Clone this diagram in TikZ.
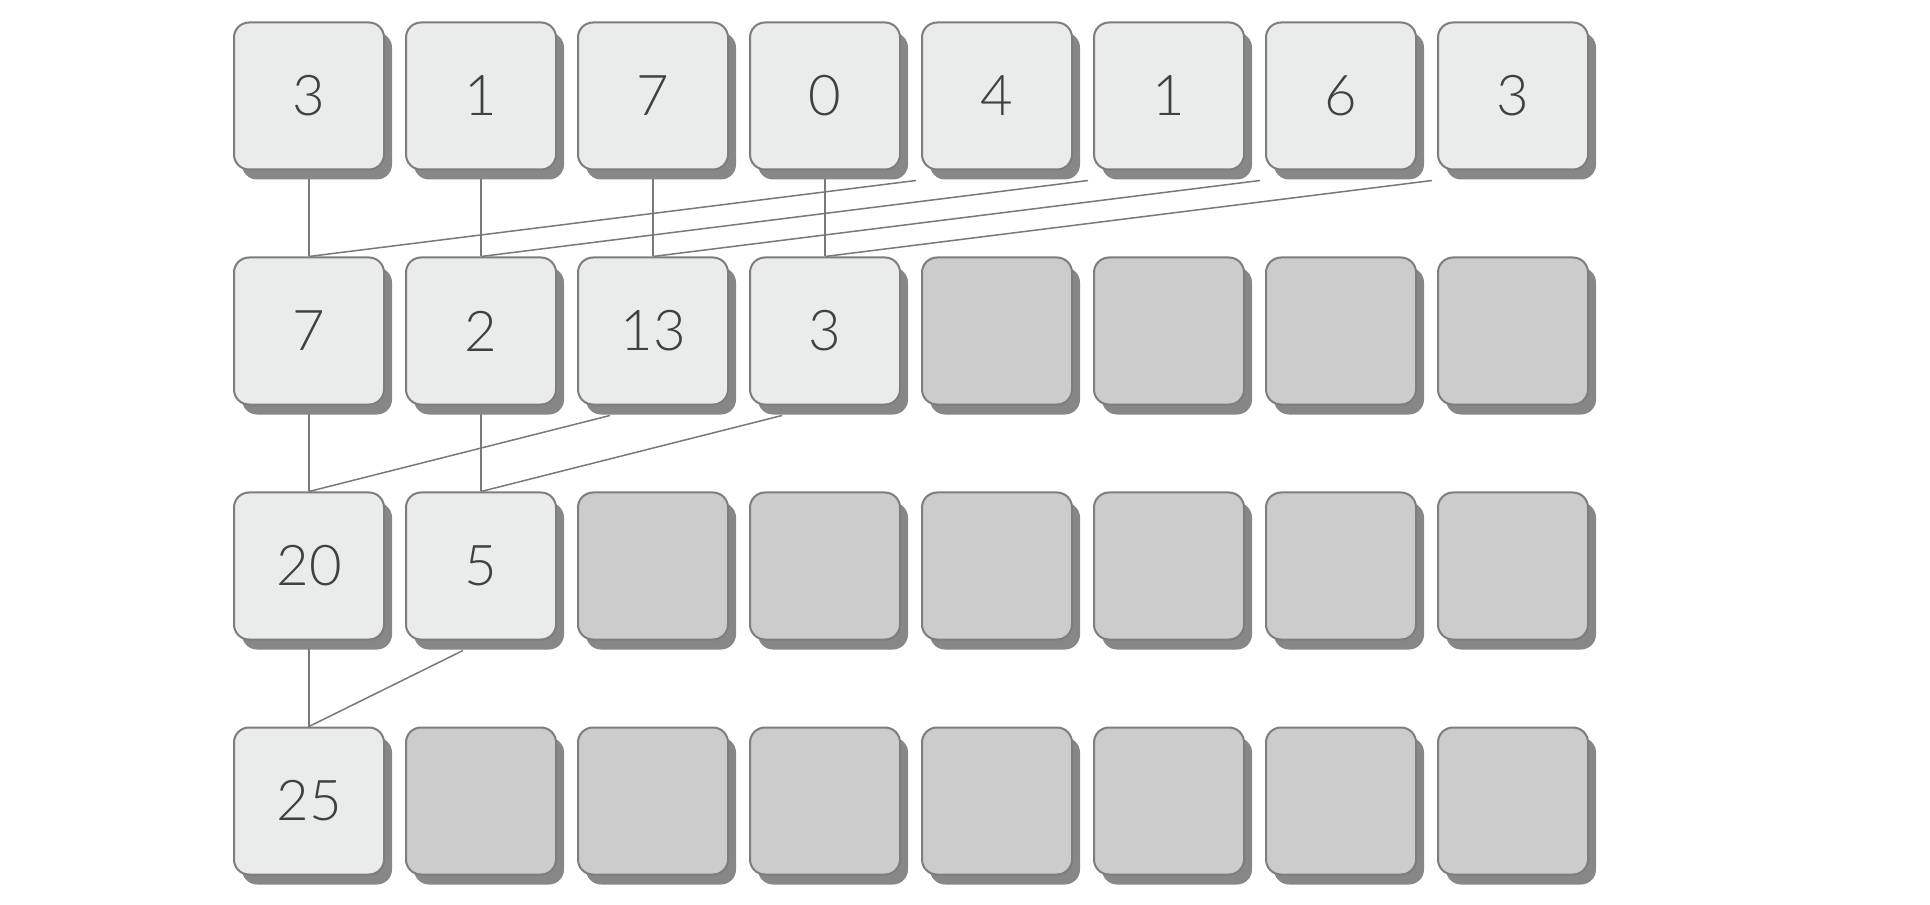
\documentclass[tikz,border=0pt]{standalone}
\usepackage{fontspec}
\setmainfont{Lato}[UprightFont=* Light]
\usetikzlibrary{shadows,backgrounds}
\definecolor{cellfill}{RGB}{233,236,235}
\definecolor{cellempty}{RGB}{204,204,204}
\definecolor{celledge}{RGB}{125,125,125}
\definecolor{cellshadow}{RGB}{135,135,135}
\definecolor{digit}{RGB}{64,64,64}
\definecolor{wirecol}{RGB}{120,120,120}
\tikzset{
  cell/.style={draw=celledge, line width=0.4mm, fill=cellfill, rounded corners=3mm,
    minimum width=30mm, minimum height=29.4mm, inner sep=0pt, text=digit,
    font=\fontsize{32}{38}\selectfont,
    drop shadow={shadow xshift=1.6mm, shadow yshift=-2mm, fill=cellshadow, opacity=1}},
  blank/.style={cell, fill=cellempty},
  wire/.style={draw=wirecol, line width=0.3mm}
}

\begin{document}
\begin{tikzpicture}[x=0.2mm, y=0.2mm]
			\useasboundingbox (0,0) rectangle (1930,904);
			% input row
			\foreach \v [count=\i from 0] in {3,1,7,0,4,1,6,3}
				\node[cell] (a\i) at (309+172*\i, 808) {\v};
			% first pass: four sums
			\node[cell] (b0) at (309, 573) {7};
			\node[cell] (b1) at (481, 573) {2};
			\node[cell] (b2) at (653, 573) {13};
			\node[cell] (b3) at (825, 573) {3};
			\foreach \i in {4,...,7}
				\node[blank] (b\i) at (309+172*\i, 573) {};
			% second pass
			\node[cell] (c0) at (309, 338) {20};
			\node[cell] (c1) at (481, 338) {5};
			\foreach \i in {2,...,7}
				\node[blank] (c\i) at (309+172*\i, 338) {};
			% last pass
			\node[cell] (d0) at (309, 103) {25};
			\foreach \i in {1,...,7}
				\node[blank] (d\i) at (309+172*\i, 103) {};
			% wires behind the cells
			\begin{scope}[on background layer]
				\foreach \i in {0,...,3} {
					\pgfmathtruncatemacro\j{\i+4}
					\draw[wire] (a\i.south) -- (b\i.north);
					\draw[wire] ([xshift=-1mm,yshift=-2mm]a\j.south west) -- (b\i.north);
				}
				\draw[wire] (b0.south) -- (c0.north);
				\draw[wire] (b1.south) -- (c1.north);
				\draw[wire] ([xshift=6.6mm,yshift=-2mm]b2.south west) -- (c0.north);
				\draw[wire] ([xshift=6.6mm,yshift=-2mm]b3.south west) -- (c1.north);
				\draw[wire] (c0.south) -- (d0.north);
				\draw[wire] ([xshift=11.6mm,yshift=-2mm]c1.south west) -- (d0.north);
			\end{scope}
		\end{tikzpicture}
\end{document}
